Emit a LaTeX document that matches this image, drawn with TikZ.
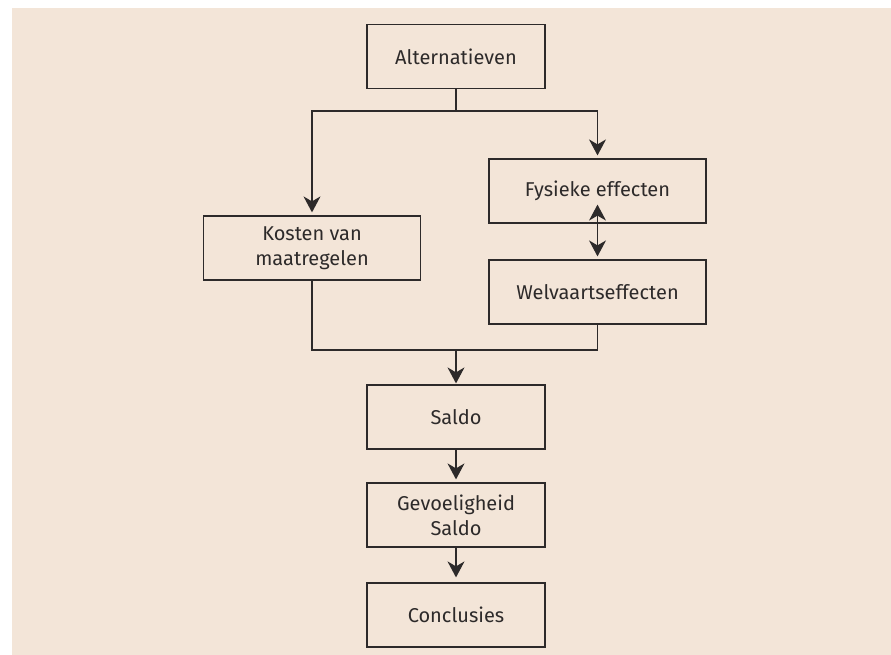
\documentclass[tikz,border=0pt]{standalone}
\usepackage{fontspec}
\setmainfont{Fira Sans}
\usetikzlibrary{arrows.meta}

\definecolor{bgbeige}{RGB}{243,229,216}
\definecolor{inkgray}{RGB}{45,42,42}

\begin{document}
\begin{tikzpicture}[x=1pt, y=-1pt]

% styles
\pgfkeys{/tikz/link/.style={draw=inkgray, line width=1.2pt}} % connectors
\pgfkeys{/arr/.style={link, -{Stealth[length=16pt, width=17pt, inset=5pt]}, shorten >=3pt}} % arrowheads
\pgfkeys{/box/.style={draw=inkgray, line width=1.2pt, rectangle, align=center, inner sep=0, text=inkgray, font=\fontsize{20}{25}\selectfont, minimum height=64pt}} % base style for boxes
\pgfkeys{/midbox/.style={/box, minimum width=178pt}} % boxes in the middle column
\pgfkeys{/sidebox/.style={/box, minimum width=217pt}} % boxes in the side columns

% frame
\useasboundingbox (0,0) rectangle (891,655);
\fill[bgbeige] (12,8) rectangle (900,662);

% middle column
\node[/midbox] (alt) at (456,56.5) {Alternatieven};
\node[/midbox] (saldo) at (456,417) {Saldo};
\node[/midbox] (gev) at (456,515) {Gevoeligheid\\Saldo};
\node[/midbox] (concl) at (456,615) {Conclusies};

% side columns
\node[/sidebox] (kosten) at (312,248) {Kosten van\\maatregelen};
\node[/sidebox] (fys) at (597.5,191) {Fysieke effecten};
\node[/sidebox] (welv) at (597.5,292) {Welvaartseffecten};

% split and merge points
\coordinate (split) at (456,111);
\coordinate (merge) at (456,350);

% from alternatives to both branches
\draw[link] (alt) -- (split);
\draw[/arr] (split) -| (kosten.north);
\draw[/arr] (split) -| (fys.north);
\draw[link, {Stealth[length=16pt, width=17pt, inset=5pt]}-{Stealth[length=16pt, width=17pt, inset=5pt]}] ([yshift=19pt]fys.south) -- ([yshift=3pt]welv.north);

% both branches join into the balance
\draw[link] (kosten.south) |- (merge) -| (welv.south);
\draw[/arr, shorten >=1pt] (merge) -- (saldo);
\draw[/arr] (saldo) -- (gev);
\draw[/arr, shorten >=5pt] (gev) -- (concl);

\end{tikzpicture}
\end{document}
